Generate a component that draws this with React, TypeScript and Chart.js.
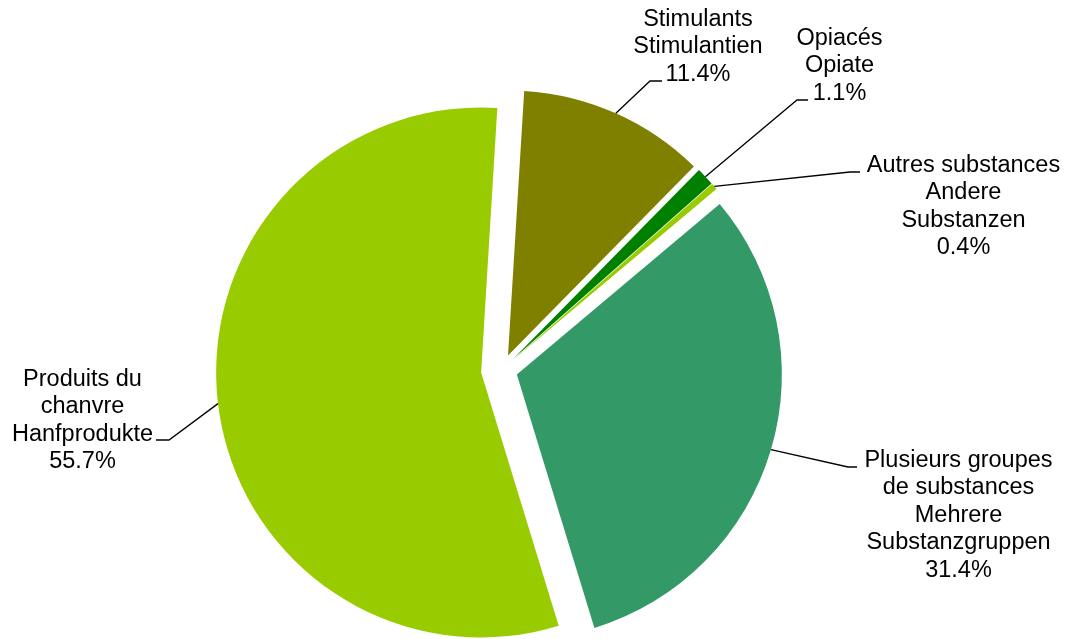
import React, { useEffect, useRef } from "react";
import { Chart, registerables } from "chart.js";

Chart.register(...registerables);

// ---- data ----
const categories: string[][] = [
  ["Stimulants", "Stimulantien"],
  ["Opiacés", "Opiate"],
  ["Autres substances", "Andere", "Substanzen"],
  ["Plusieurs groupes", "de substances", "Mehrere", "Substanzgruppen"],
  ["Produits du", "chanvre", "Hanfprodukte"],
];
const shares: number[] = [11.4, 1.1, 0.4, 31.4, 55.7];

// ---- styles / layout ----
const sliceColors = ["#808000", "#008000", "#99CC00", "#339966", "#99CC00"];
const explodeDistances = [16, 16, 16, 16, 20.5];
const pieRadius = 265;
const FONT = '23.5px "Liberation Sans", Arial, sans-serif';
const LINE_H = 27.4;
// leader-line elbow/end and text anchor (centre x, first baseline y), canvas px
const labelLayout = [
  { elbow: [650, 81], end: [662, 81], x: 698, y: 26 },
  { elbow: [797, 100], end: [808, 100], x: 839.5, y: 45 },
  { elbow: [850, 172], end: [860, 172], x: 963.5, y: 171.7 },
  { elbow: [848, 467], end: [857, 467], x: 958.5, y: 467 },
  { elbow: [169, 440], end: [156, 440], x: 82.5, y: 385.7 },
];

const explodePlugin = {
  id: "explode",
  afterDatasetsUpdate(chart: any) {
    const meta = chart.getDatasetMeta(0);
    meta.data.forEach((arc: any, i: number) => {
      const mid = (arc.startAngle + arc.endAngle) / 2;
      const d = explodeDistances[i] || 0;
      arc.x += Math.cos(mid) * d;
      arc.y += Math.sin(mid) * d;
    });
  },
};

const labelPlugin = {
  id: "pieLabels",
  afterDatasetsDraw(chart: any) {
    const ctx = chart.ctx;
    const meta = chart.getDatasetMeta(0);
    ctx.save();
    ctx.strokeStyle = "#000";
    ctx.lineWidth = 1.3;
    meta.data.forEach((arc: any, i: number) => {
      const L = labelLayout[i];
      const mid = (arc.startAngle + arc.endAngle) / 2;
      const sx = arc.x + Math.cos(mid) * arc.outerRadius;
      const sy = arc.y + Math.sin(mid) * arc.outerRadius;
      ctx.beginPath();
      ctx.moveTo(sx, sy);
      ctx.lineTo(L.elbow[0], L.elbow[1]);
      ctx.lineTo(L.end[0], L.end[1]);
      ctx.stroke();
    });
    ctx.fillStyle = "#000";
    ctx.font = FONT;
    ctx.textAlign = "center";
    ctx.textBaseline = "alphabetic";
    categories.forEach((lines, i) => {
      const L = labelLayout[i];
      const all = [...lines, shares[i].toFixed(1) + "%"];
      all.forEach((t, k) => ctx.fillText(t, L.x, L.y + k * LINE_H));
    });
    ctx.restore();
  },
};

export default function App() {
  const ref = useRef<HTMLCanvasElement>(null);
  useEffect(() => {
    if (!ref.current) return;
    const chart = new Chart(ref.current, {
      type: "pie",
      data: {
        labels: categories.map((c) => c.join(" ")),
        datasets: [
          {
            data: shares,
            backgroundColor: sliceColors,
            borderWidth: 0,
          },
        ],
      },
      options: {
        responsive: true,
        maintainAspectRatio: false,
        devicePixelRatio: 1,
        animation: false,
        rotation: 3.5,
        radius: pieRadius,
        layout: { padding: { left: 0, right: 66, top: 101, bottom: 0 } },
        plugins: {
          legend: { display: false },
          tooltip: { enabled: false },
        },
      } as any,
      plugins: [explodePlugin, labelPlugin],
    });
    return () => chart.destroy();
  }, []);
  return (
    <div style={{ position: "absolute", left: 0, top: 0, width: 1069, height: 639, background: "#fff" }}>
      <canvas ref={ref} />
    </div>
  );
}
